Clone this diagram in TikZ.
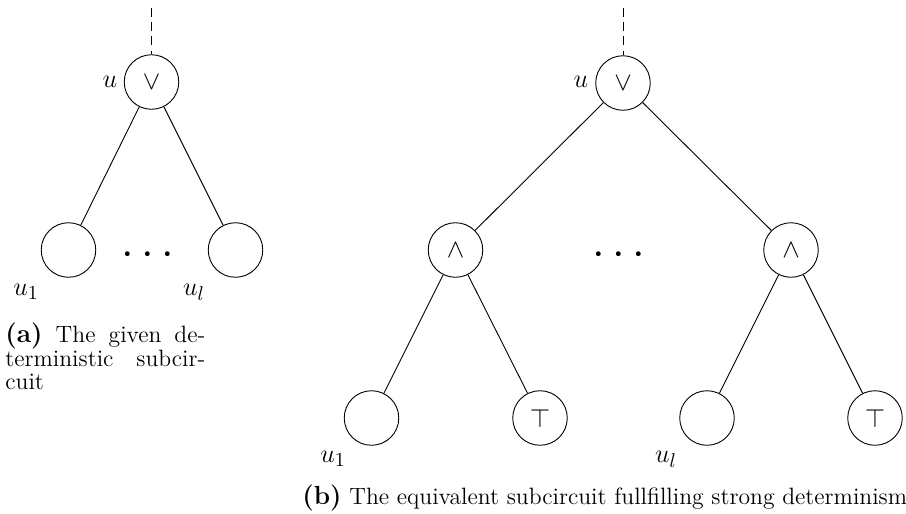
\documentclass[tikz,border=0pt]{standalone}
\usepackage{amssymb}
\begin{document}
\begin{tikzpicture}[x=0.55pt,y=-0.55pt,
  gate/.style={draw,circle,minimum size=30pt,inner sep=0pt,line width=0.5pt,font=\Large},
  lbl/.style={font=\fontsize{15}{17}\selectfont,inner sep=0pt},
  edge/.style={draw,line width=0.5pt},
  dashedge/.style={draw,line width=0.5pt,dash pattern=on 5pt off 2.8pt},
  dotsnode/.style={inner sep=0pt,font=\Huge},
  captext/.style={font=\fontsize{13}{12.6}\selectfont,inner sep=0pt}]
\useasboundingbox (0,0) rectangle (906,513);
% ---------- (a)
\node[gate] (a0) at (151.5,82) {$\vee$};
\node[gate] (a1) at (68.5,250) {};
\node[gate] (a2) at (235.5,250) {};
\coordinate (atop) at (151.5,8);
\draw[dashedge] (atop) -- (a0);
\draw[edge] (a0) -- (a1);
\draw[edge] (a0) -- (a2);
\node[dotsnode] (adots) at (148,255) {$\cdots$};
\node[lbl] (alu) at (110,82) {$u$};
\node[lbl] (alu1) at (26,292) {$u_1$};
\node[lbl] (alul) at (194,292) {$u_l$};
\node[captext,anchor=base west,text width=110pt,align=left] (acap) at (5,342)
  {{\fontsize{14.4}{12.6}\bfseries (a)}\hfill The\hfill given\hfill de-\\terministic\hfill subcir-\\cuit};
% ---------- (b)
\node[gate] (b0) at (623,83) {$\vee$};
\node[gate] (b1) at (455.5,250) {$\wedge$};
\node[gate] (b2) at (791,250) {$\wedge$};
\node[gate] (c1) at (371.5,418) {};
\node[gate] (c2) at (540,418) {$\top$};
\node[gate] (c3) at (707,418) {};
\node[gate] (c4) at (875,418) {$\top$};
\coordinate (btop) at (623,8);
\draw[dashedge] (btop) -- (b0);
\draw[edge] (b0) -- (b1);
\draw[edge] (b0) -- (b2);
\draw[edge] (b1) -- (c1);
\draw[edge] (b1) -- (c2);
\draw[edge] (b2) -- (c3);
\draw[edge] (b2) -- (c4);
\node[dotsnode] (bdots) at (619,255) {$\cdots$};
\node[lbl] (blu) at (581,82) {$u$};
\node[lbl] (blu1) at (333,459) {$u_1$};
\node[lbl] (blul) at (666,459) {$u_l$};
\node[captext,anchor=base west] (bcap) at (302,504)
  {{\fontsize{14.4}{12.6}\bfseries (b)} The equivalent subcircuit fullfilling strong determinism};
\end{tikzpicture}
\end{document}
